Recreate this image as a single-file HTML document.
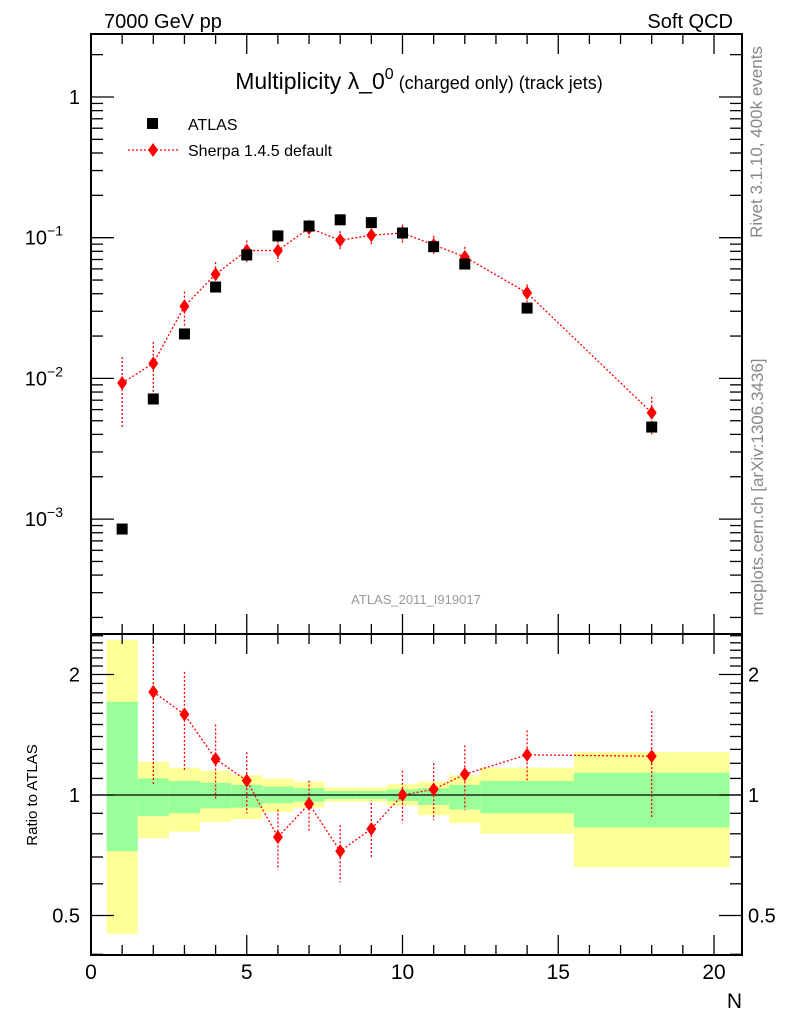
<!DOCTYPE html>
<html><head><meta charset="utf-8"><style>
html,body{margin:0;padding:0;background:#fff;}
svg{display:block;font-family:"Liberation Sans","DejaVu Sans",sans-serif;}
</style></head><body>
<svg id="chart" width="786" height="1024" viewBox="0 0 786 1024" xmlns="http://www.w3.org/2000/svg">
<g id="bands"></g>
<g id="marks"></g>
<g id="axes"></g>
<text x="104" y="28" font-size="20">7000 GeV pp</text>
<text x="733" y="28" font-size="20" text-anchor="end">Soft QCD</text>
<text x="419" y="89" font-size="23" text-anchor="middle">Multiplicity λ_0<tspan font-size="16" dy="-10">0</tspan><tspan font-size="18" dy="10"> (charged only) (track jets)</tspan></text>
<rect x="147" y="118" width="11" height="11" fill="#000"/>
<text x="188" y="130" font-size="16">ATLAS</text>
<line x1="128" y1="150" x2="178" y2="150" stroke="#f00" stroke-width="1.3" stroke-dasharray="2,2"/>
<path d="M153,143 L158,150 L153,157 L148,150 Z" fill="#f00"/>
<text x="188" y="156" font-size="16">Sherpa 1.4.5 default</text>
<text x="416" y="604" font-size="13" fill="#999" text-anchor="middle">ATLAS_2011_I919017</text>
<text transform="translate(762,142) rotate(-90)" font-size="17" fill="#888" text-anchor="middle">Rivet 3.1.10,  400k events</text>
<text transform="translate(763,487) rotate(-90)" font-size="17" fill="#888" text-anchor="middle">mcplots.cern.ch [arXiv:1306.3436]</text>
<text transform="translate(37,795) rotate(-90)" font-size="15" text-anchor="middle">Ratio to ATLAS</text>
<text x="742" y="1008" font-size="21" text-anchor="end">N</text>
</svg>
<script>
const xN = [1,2,3,4,5,6,7,8,9,10,11,12,14,18];
const atlas = [0.00085,0.00714,0.0207,0.0446,0.0754,0.103,0.121,0.134,0.128,0.108,0.0863,0.065,0.0316,0.00451];
const sherpa = [0.00927,0.0128,0.0326,0.055,0.081,0.081,0.117,0.096,0.104,0.108,0.089,0.073,0.0405,0.0057];
const sherpaErrHiRel = [1.53,1.42,1.27,1.22,1.18,1.17,1.14,1.16,1.16,1.15,1.16,1.18,1.15,1.3];
const sherpaErrLoRel = [0.48,0.6,0.72,0.79,0.83,0.83,0.85,0.84,0.85,0.85,0.84,0.82,0.86,0.7];
const ratioN = [2,3,4,5,6,7,8,9,10,11,12,14,18];
const ratio = [1.81,1.59,1.23,1.086,0.785,0.95,0.724,0.823,1.0,1.033,1.127,1.26,1.25];
const ratioHi = [2.7,2.03,1.50,1.28,0.92,1.086,0.84,0.955,1.15,1.2,1.33,1.45,1.62];
const ratioLo = [1.06,1.155,0.97,0.90,0.65,0.81,0.605,0.696,0.85,0.865,0.917,1.076,0.88];
const binLo = [0.5,1.5,2.5,3.5,4.5,5.5,6.5,7.5,8.5,9.5,10.5,11.5,12.5,15.5];
const binHi = [1.5,2.5,3.5,4.5,5.5,6.5,7.5,8.5,9.5,10.5,11.5,12.5,15.5,20.5];
const yelHi = [2.44,1.21,1.17,1.15,1.12,1.10,1.08,1.045,1.045,1.065,1.08,1.12,1.17,1.28];
const yelLo = [0.45,0.78,0.81,0.856,0.87,0.906,0.93,0.962,0.962,0.94,0.89,0.85,0.80,0.66];
const grnHi = [1.71,1.10,1.084,1.073,1.06,1.05,1.04,1.023,1.023,1.033,1.04,1.06,1.084,1.137];
const grnLo = [0.724,0.886,0.90,0.926,0.93,0.953,0.962,0.977,0.977,0.966,0.944,0.92,0.90,0.83];
const xTickLabels = ["0","5","10","15","20"];

const NS="http://www.w3.org/2000/svg";
const L=91,R=742,T=34,M=634,B=955;
const X=v=>91+v*31.15;
const Y=v=>97-Math.log10(v)*140.7;
const RY=v=>795-Math.log2(v)*120.5;
function mk(parent,tag,attrs){const e=document.createElementNS(NS,tag);for(const k in attrs)e.setAttribute(k,attrs[k]);parent.appendChild(e);return e;}
const bands=document.getElementById('bands'),marks=document.getElementById('marks'),axes=document.getElementById('axes');
const clip=v=>Math.max(M,Math.min(B,v));
for(let i=0;i<binLo.length;i++){
  let r=mk(bands,'rect',{x:X(binLo[i]),y:clip(RY(yelHi[i])),width:X(binHi[i])-X(binLo[i]),height:clip(RY(yelLo[i]))-clip(RY(yelHi[i])),fill:'#ffff99'});
  
  
  let g=mk(bands,'rect',{x:X(binLo[i]),y:clip(RY(grnHi[i])),width:X(binHi[i])-X(binLo[i]),height:clip(RY(grnLo[i]))-clip(RY(grnHi[i])),fill:'#99ff99'});
  
  
}
let one=mk(bands,'line',{x1:L,x2:R,y1:RY(1),y2:RY(1),stroke:'#000','stroke-width':1.3});


const dia=(x,y)=>`M${x},${y-7} L${x+5},${y} L${x},${y+7} L${x-5},${y} Z`;
let pts=xN.map((n,i)=>X(n)+','+Y(sherpa[i])).join(' ');
let pl=mk(marks,'polyline',{points:pts,fill:'none',stroke:'#f00','stroke-width':1.3,'stroke-dasharray':'2,2'});


xN.forEach((n,i)=>{
  let e=mk(marks,'line',{x1:X(n),x2:X(n),y1:Y(sherpa[i]*sherpaErrHiRel[i]),y2:Y(sherpa[i]*sherpaErrLoRel[i]),stroke:'#f00','stroke-width':1.3,'stroke-dasharray':'2,2'});
  
  
  let d=mk(marks,'path',{d:dia(X(n),Y(sherpa[i])),fill:'#f00'});
  
  
  let s=mk(marks,'rect',{x:X(n)-5.5,y:Y(atlas[i])-5.5,width:11,height:11,fill:'#000'});
  
  
});
pts=ratioN.map((n,i)=>X(n)+','+RY(ratio[i])).join(' ');
let rp=mk(marks,'polyline',{points:pts,fill:'none',stroke:'#f00','stroke-width':1.3,'stroke-dasharray':'2,2'});


ratioN.forEach((n,i)=>{
  let e=mk(marks,'line',{x1:X(n),x2:X(n),y1:clip(RY(ratioHi[i])),y2:clip(RY(ratioLo[i])),stroke:'#f00','stroke-width':1.3,'stroke-dasharray':'2,2'});
  
  
  let d=mk(marks,'path',{d:dia(X(n),RY(ratio[i])),fill:'#f00'});
  
  
});
[[T,M],[M,B]].forEach(([a,b],k)=>{
  let f=mk(axes,'rect',{x:L,y:a,width:R-L,height:b-a,fill:'none',stroke:'#000','stroke-width':2});
  
  
  for(let v=0;v<=20;v++){
    const len=v%5===0?20:10;
    mk(axes,'line',{x1:X(v),x2:X(v),y1:b,y2:b-len,stroke:'#000','stroke-width':1.3});
    mk(axes,'line',{x1:X(v),x2:X(v),y1:a,y2:a+len,stroke:'#000','stroke-width':1.3});
  }
});
for(let e=-4;e<=0;e++){for(let m=1;m<=9;m++){const v=m*Math.pow(10,e);const y=Y(v);if(y<T||y>M)continue;const len=m===1?23:12;
  mk(axes,'line',{x1:L,x2:L+len,y1:y,y2:y,stroke:'#000','stroke-width':1.3});
  mk(axes,'line',{x1:R,x2:R-len,y1:y,y2:y,stroke:'#000','stroke-width':1.3});}}
const yl=[[1,'1',null],[0.1,'10','−1'],[0.01,'10','−2'],[0.001,'10','−3']];
yl.forEach(([v,b,s])=>{const t=mk(axes,'text',{x:s?63:80,y:Y(v)+7,'font-size':20,'text-anchor':'end'});t.textContent=b;
  
  
  if(s){const sp=mk(t,'tspan',{'font-size':14,dy:-9});sp.textContent=s;}});
[0.4,0.5,0.6,0.7,0.8,0.9,1,1.1,1.2,1.3,1.4,1.5,1.6,1.7,1.8,1.9,2,2.1,2.2,2.3,2.4,2.5].forEach(v=>{const y=RY(v);if(y<M||y>B)return;const len=(v===0.5||v===1||v===2)?23:12;
  mk(axes,'line',{x1:L,x2:L+len,y1:y,y2:y,stroke:'#000','stroke-width':1.3});
  mk(axes,'line',{x1:R,x2:R-len,y1:y,y2:y,stroke:'#000','stroke-width':1.3});});
[[2,'2'],[1,'1'],[0.5,'0.5']].forEach(([v,s])=>{
  let t=mk(axes,'text',{x:80,y:RY(v)+7,'font-size':20,'text-anchor':'end'});t.textContent=s;
  
  
  let t2=mk(axes,'text',{x:748,y:RY(v)+7,'font-size':20});t2.textContent=s;
  
  
});
xTickLabels.forEach((s,i)=>{let t=mk(axes,'text',{x:X(i*5),y:979,'font-size':21,'text-anchor':'middle'});t.textContent=s;
  
  });
</script>
</body></html>
